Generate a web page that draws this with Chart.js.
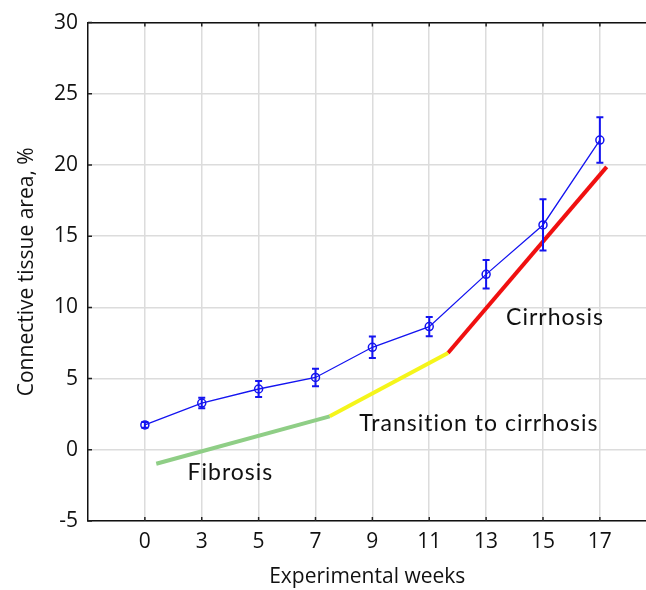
<!DOCTYPE html>
<html>
<head>
<meta charset="utf-8">
<title>Connective tissue area</title>
<script src="https://cdn.jsdelivr.net/npm/chart.js@4.4.1/dist/chart.umd.min.js"></script>
<style>
    html, body { margin: 0; background: #fff; overflow: hidden; }
    /* plot runs past the right edge of the window, as in the source figure */
    #wrap { width: 652px; height: 590px; }
</style>
</head>
<body>
<div id="wrap"><canvas id="tissueChart"></canvas></div>
<script>
// ### DATA ###
const weeks = ['0', '3', '5', '7', '9', '11', '13', '15', '17'];
const tissueArea = [1.75, 3.28, 4.27, 5.08, 7.2, 8.65, 12.32, 15.79, 21.75];
const tissueErr = [0.2, 0.37, 0.57, 0.62, 0.76, 0.68, 1.0, 1.8, 1.6];
const yTicks = [-5, 0, 5, 10, 15, 20, 25, 30];

// stage trend lines (x in week-index units)
const fibrosisLine = [{ x: 0.2, y: -0.98 }, { x: 3.25, y: 2.35 }];
const transitionLine = [{ x: 3.25, y: 2.35 }, { x: 5.33, y: 6.8 }];
const cirrhosisLine = [{ x: 5.33, y: 6.8 }, { x: 8.12, y: 19.87 }];

// stage labels: text, x (index units), baseline y
const stageLabels = [
    { text: 'Fibrosis', x: 0.75, y: -2.15 },
    { text: 'Transition to cirrhosis', x: 3.77, y: 1.34 },
    { text: 'Cirrhosis', x: 6.35, y: 8.76 }
];

const BLUE = '#1414f0';
const TICK_FONT = { family: 'Open Sans', size: 21 };

(function () {
    // --- error bars on the main series ---
    const errorBars = {
        id: 'errorBars',
        afterDatasetsDraw(chart) {
            const ctx = chart.ctx;
            const x = chart.scales.x;
            const y = chart.scales.y;
            ctx.save();
            ctx.strokeStyle = BLUE;
            ctx.lineWidth = 2;
            tissueArea.forEach((v, i) => {
                const px = x.getPixelForValue(i);
                const top = y.getPixelForValue(v + tissueErr[i]);
                const bot = y.getPixelForValue(v - tissueErr[i]);
                ctx.beginPath();
                ctx.moveTo(px, top); ctx.lineTo(px, bot);
                ctx.moveTo(px - 3.5, top); ctx.lineTo(px + 3.5, top);
                ctx.moveTo(px - 3.5, bot); ctx.lineTo(px + 3.5, bot);
                ctx.stroke();
            });
            ctx.restore();
        }
    };

    // --- stage text and inward tick marks ---
    const decorations = {
        id: 'decorations',
        afterDraw(chart) {
            const ctx = chart.ctx;
            const x = chart.scales.x;
            const y = chart.scales.y;
            const area = chart.chartArea;
            ctx.save();
            ctx.fillStyle = '#111';
            ctx.font = '23px Lato';
            ctx.letterSpacing = '1px';
            ctx.textAlign = 'left';
            ctx.textBaseline = 'alphabetic';
            stageLabels.forEach(l => {
                ctx.fillText(l.text, x.getPixelForValue(l.x), y.getPixelForValue(l.y));
            });
            ctx.letterSpacing = '0px';

            // small inward ticks
            ctx.strokeStyle = '#222';
            ctx.lineWidth = 1.5;
            ctx.beginPath();
            weeks.forEach((w, i) => {
                const px = x.getPixelForValue(i);
                ctx.moveTo(px, area.bottom); ctx.lineTo(px, area.bottom - 4);
                ctx.moveTo(px, area.top); ctx.lineTo(px, area.top + 4);
            });
            yTicks.forEach(t => {
                const py = y.getPixelForValue(t);
                ctx.moveTo(area.left, py); ctx.lineTo(area.left + 4, py);
            });
            ctx.stroke();
            ctx.restore();
        }
    };

    function trend(data, color) {
        return {
            type: 'line',
            data: data,
            borderColor: color,
            borderWidth: 4,
            pointRadius: 0,
            tension: 0
        };
    }

    const ctx = document.getElementById('tissueChart').getContext('2d');
    new Chart(ctx, {
        type: 'line',
        data: {
            datasets: [
                {
                    label: 'Connective tissue area',
                    data: tissueArea.map((v, i) => ({ x: i, y: v })),
                    borderColor: BLUE,
                    borderWidth: 1.3,
                    pointStyle: 'circle',
                    pointRadius: 4,
                    pointBorderWidth: 1.5,
                    pointBorderColor: BLUE,
                    pointBackgroundColor: 'rgba(255,255,255,0)',
                    tension: 0
                },
                trend(fibrosisLine, '#8fce86'),
                trend(transitionLine, '#f5f51a'),
                trend(cirrhosisLine, '#f01010')
            ]
        },
        options: {
            responsive: true,
            maintainAspectRatio: false,
            animation: false,
            layout: { padding: { top: 19, right: 0, left: 0, bottom: 0 } },
            plugins: {
                legend: { display: false },
                tooltip: { enabled: false }
            },
            scales: {
                x: {
                    type: 'linear',
                    min: -1,
                    max: 8.82,
                    afterBuildTicks: scale => {
                        scale.ticks = weeks.map((w, i) => ({ value: i }));
                    },
                    afterFit: scale => { scale.height = 69; },
                    grid: { color: '#dcdcdc', lineWidth: 1.5, drawTicks: false },
                    border: { display: true, color: '#111', width: 1.5 },
                    ticks: {
                        font: TICK_FONT,
                        color: '#111',
                        padding: 8,
                        maxRotation: 0,
                        callback: v => weeks[v]
                    },
                    title: {
                        display: true,
                        text: 'Experimental weeks',
                        font: TICK_FONT,
                        color: '#111',
                        padding: { top: 0, bottom: 0 }
                    }
                },
                xTop: {
                    type: 'linear',
                    position: 'top',
                    min: -1,
                    max: 8.82,
                    afterFit: scale => { scale.height = 0; },
                    grid: { display: false },
                    border: { display: true, color: '#111', width: 1.5 },
                    ticks: { display: false }
                },
                y: {
                    min: -5,
                    max: 30,
                    afterBuildTicks: scale => {
                        scale.ticks = yTicks.map(t => ({ value: t }));
                    },
                    afterFit: scale => { scale.width = 88; },
                    grid: { color: '#dcdcdc', lineWidth: 1.5, drawTicks: false },
                    border: { display: true, color: '#111', width: 1.5 },
                    ticks: { font: TICK_FONT, color: '#111', padding: 10 },
                    title: {
                        display: true,
                        text: 'Connective tissue area, %',
                        font: TICK_FONT,
                        color: '#111',
                        padding: { top: 14, bottom: 0 }
                    }
                }
            }
        },
        plugins: [errorBars, decorations]
    });
})();
</script>
</body>
</html>
